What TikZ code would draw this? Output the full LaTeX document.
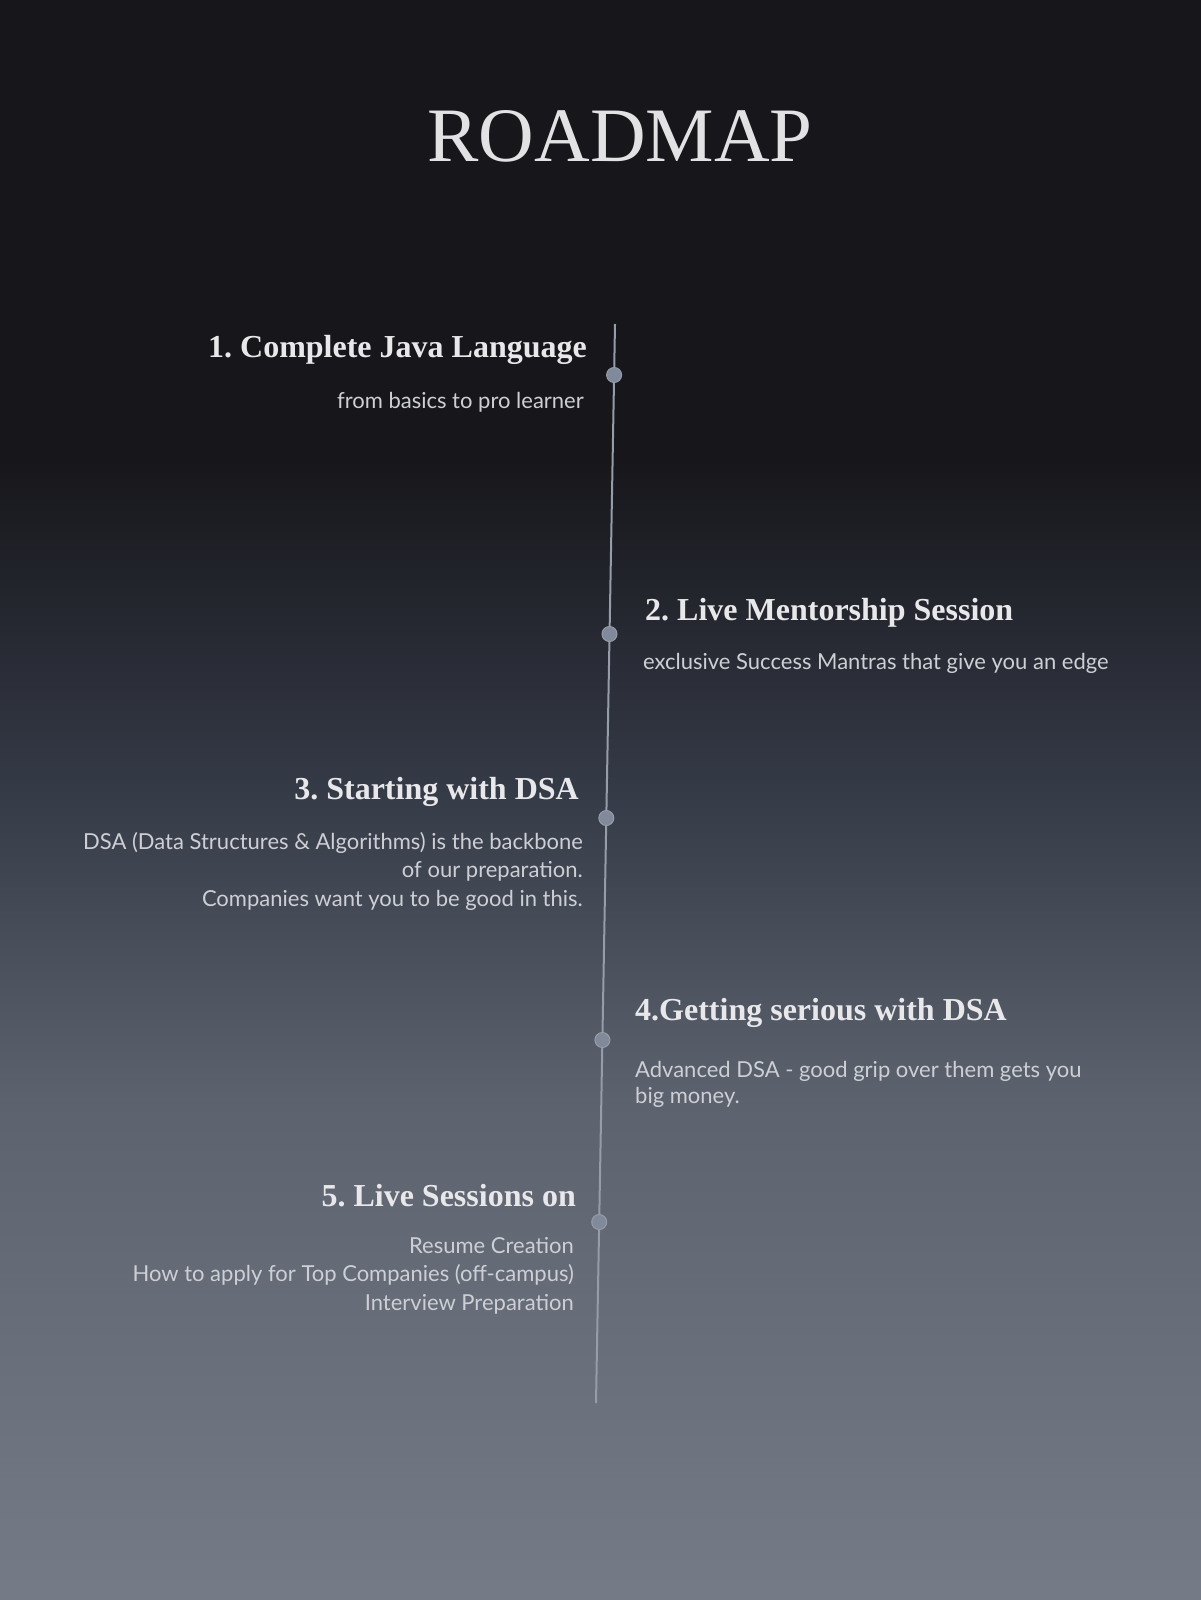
\documentclass[tikz,border=0pt]{standalone}
\usepackage{fontspec}
\setmainfont{Liberation Serif}
\newfontfamily\bodyfont{Lato}
\frenchspacing
\definecolor{RMbg}{RGB}{23,23,27}
\definecolor{RMbg2}{RGB}{26,28,36}
\definecolor{RMbg3}{RGB}{52,57,70}
\definecolor{RMbg4}{RGB}{92,98,110}
\definecolor{RMbg5}{RGB}{118,124,135}
\definecolor{RMtitle}{RGB}{226,226,228}
\definecolor{RMhead}{RGB}{232,232,234}
\definecolor{RMtext}{RGB}{205,207,212}
\definecolor{RMline}{RGB}{150,156,168}
\definecolor{RMdot}{RGB}{128,138,155}
\tikzset{
  title/.style={inner sep=0pt, text=RMtitle, font=\fontsize{77}{80}\selectfont},
  heading/.style={inner sep=0pt, text=RMhead, font=\fontsize{32}{38}\selectfont\bfseries},
  subtext/.style={inner sep=0pt, text=RMtext, font=\bodyfont\fontsize{22}{28.5}\selectfont},
  milestone/.style={circle, fill=RMdot, draw=RMline, line width=1pt, minimum size=15pt, inner sep=0pt},
}

\begin{document}
\begin{tikzpicture}[x=1pt,y=-1pt]
%Background
\useasboundingbox (0,0) rectangle (1200,1600);
\fill[RMbg] (-10,-10) rectangle (1210,461);
\shade[top color=RMbg, bottom color=RMbg3] (-10,460) rectangle (1210,781);
\shade[top color=RMbg3, bottom color=RMbg4] (-10,780) rectangle (1210,1101);
\shade[top color=RMbg4, bottom color=RMbg5] (-10,1100) rectangle (1210,1610);
%Title
\node[title, anchor=base] (title) at (620,161) {ROADMAP};
%Timeline
\coordinate (tltop) at (615,324);
\coordinate (tlbot) at (596,1403);
\draw[RMline, line width=2pt] (tltop) -- (tlbot);
\node[milestone] (m1) at (614.1,375) {};
\node[milestone] (m2) at (609.5,634) {};
\node[milestone] (m3) at (606.3,818) {};
\node[milestone] (m4) at (602.4,1040) {};
\node[milestone] (m5) at (599.2,1222) {};
%Steps
\node[heading, anchor=base east] (h1) at (587,357) {1. Complete Java Language};
\node[subtext, anchor=base east] (s1) at (584,408) {from basics to pro learner};
\node[heading, anchor=base west] (h2) at (645,620) {2. Live Mentorship Session};
\node[subtext, anchor=base west] (s2) at (643,669) {exclusive Success Mantras that give you an edge};
\node[heading, anchor=base east] (h3) at (579,799) {3. Starting with DSA};
\node[subtext, anchor=north east, align=right] (s3) at (583,832) {DSA (Data Structures \& Algorithms) is the backbone\\of our preparation.\\Companies want you to be good in this.};
\node[heading, anchor=base west] (h4) at (635,1020) {4.Getting serious with DSA};
\node[subtext, anchor=north west, align=left] (s4) at (635,1061) {Advanced DSA - good grip over them gets you\\[-2.5pt]big money.};
\node[heading, anchor=base east] (h5) at (576,1206) {5. Live Sessions on};
\node[subtext, anchor=north east, align=right] (s5) at (574,1237) {Resume Creation\\How to apply for Top Companies (off-campus)\\Interview Preparation};
\end{tikzpicture}
\end{document}
